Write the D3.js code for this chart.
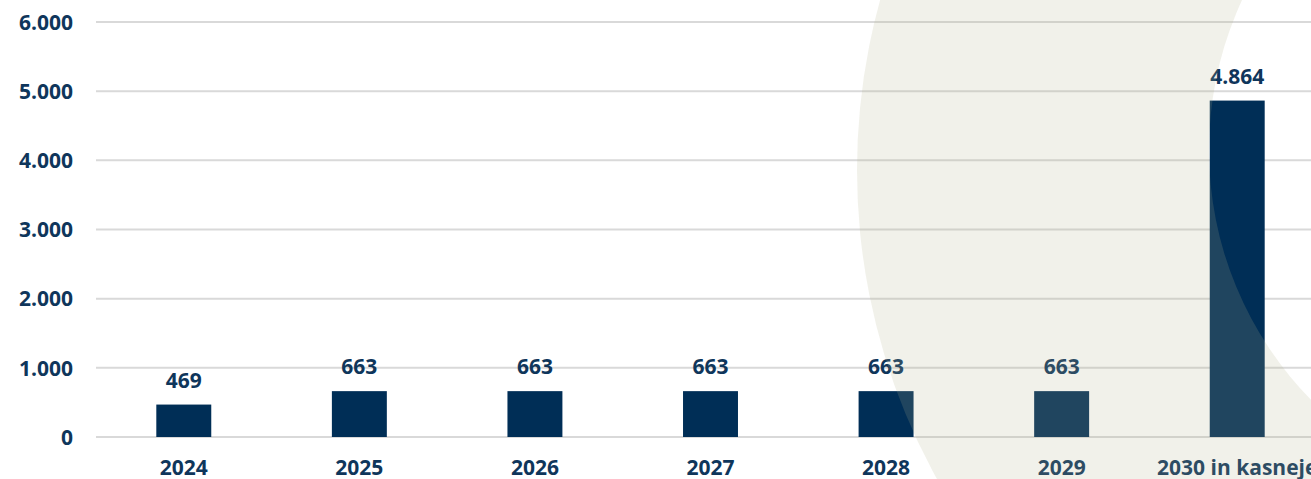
<!DOCTYPE html>
<html>
<head>
<meta charset="utf-8">
<script src="https://cdn.jsdelivr.net/npm/d3@7"></script>
<style>
  html, body { margin: 0; padding: 0; background: #fff; overflow: hidden; }
  text { font-family: "Open Sans", sans-serif; font-weight: 700; }
</style>
</head>
<body>
<div id="chart"></div>
<script>
const width = 1311;
const height = 479;

// data
const categories = ["2024", "2025", "2026", "2027", "2028", "2029", "2030 in kasneje"];
const values = [469, 663, 663, 663, 663, 663, 4864];
const yTicks = [0, 1000, 2000, 3000, 4000, 5000, 6000];

const navy = "#002e56";
const textColor = "#0f365b";

const x = d3.scaleBand()
    .domain(categories)
    .range([96, 1325])
    .paddingInner(0.687)
    .paddingOuter(0.3435);

const y = d3.scaleLinear()
    .domain([0, 6000])
    .range([437, 22]);

const fmt = d => d3.format(",")(d).replace(/,/g, ".");

const svg = d3.select("#chart").append("svg")
    .attr("width", width)
    .attr("height", height);

// gridlines
svg.append("g")
    .selectAll("line")
    .data(yTicks)
    .join("line")
    .attr("x1", 96)
    .attr("x2", width)
    .attr("y1", d => y(d))
    .attr("y2", d => y(d))
    .attr("stroke", "#d9d9d9")
    .attr("stroke-width", 2);

// y tick labels
svg.append("g")
    .selectAll("text")
    .data(yTicks)
    .join("text")
    .attr("x", 73)
    .attr("y", d => y(d))
    .attr("dy", "0.37em")
    .attr("text-anchor", "end")
    .attr("font-size", 21)
    .attr("fill", textColor)
    .text(fmt);

// bars
svg.append("g")
    .selectAll("rect")
    .data(values)
    .join("rect")
    .attr("x", (d, i) => x(categories[i]))
    .attr("y", d => y(d))
    .attr("width", x.bandwidth())
    .attr("height", d => y(0) - y(d))
    .attr("fill", navy);

// value labels
svg.append("g")
    .selectAll("text")
    .data(values)
    .join("text")
    .attr("x", (d, i) => x(categories[i]) + x.bandwidth() / 2)
    .attr("y", d => y(d) - 17)
    .attr("text-anchor", "middle")
    .attr("font-size", 21)
    .attr("fill", textColor)
    .text(fmt);

// category labels
svg.append("g")
    .selectAll("text")
    .data(categories)
    .join("text")
    .attr("x", d => x(d) + x.bandwidth() / 2)
    .attr("y", 475)
    .attr("text-anchor", "middle")
    .attr("font-size", 21)
    .attr("fill", textColor)
    .text(d => d);

// decorative crescent laid over the chart
const big = { cx: 1494, cy: 170, r: 637 };
const cut = { cx: 1566, cy: 150, r: 357 };
const circ = c => `M${c.cx - c.r},${c.cy}a${c.r},${c.r} 0 1,0 ${2 * c.r},0a${c.r},${c.r} 0 1,0 ${-2 * c.r},0Z`;
svg.append("path")
    .attr("d", circ(big) + circ(cut))
    .attr("fill-rule", "evenodd")
    .attr("fill", "rgb(180,177,140)")
    .attr("fill-opacity", 0.18);
</script>
</body>
</html>
